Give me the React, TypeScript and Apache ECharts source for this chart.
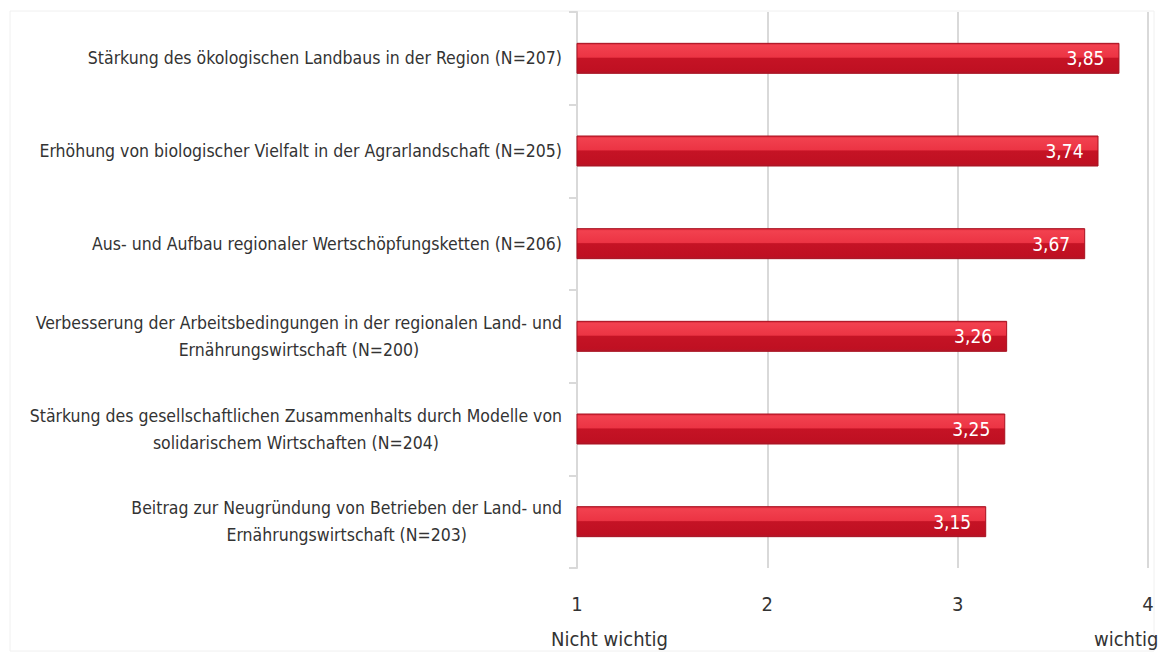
import React, { useEffect, useRef } from "react";
import * as echarts from "echarts";

const categories = [
  "Stärkung des ökologischen Landbaus in der Region (N=207)",
  "Erhöhung von biologischer Vielfalt in der Agrarlandschaft (N=205)",
  "Aus- und Aufbau regionaler Wertschöpfungsketten (N=206)",
  "Verbesserung der Arbeitsbedingungen in der regionalen Land- und\nErnährungswirtschaft (N=200)",
  "Stärkung des gesellschaftlichen Zusammenhalts durch Modelle von\nsolidarischem Wirtschaften (N=204)",
  "Beitrag zur Neugründung von Betrieben der Land- und\nErnährungswirtschaft (N=203)",
];
const values = [3.85, 3.74, 3.67, 3.26, 3.25, 3.15];
const axisMin = 1;
const axisMax = 4;
const lowLabel = "Nicht wichtig";
const highLabel = "wichtig";

const FONT = "'Liberation Sans Narrow', 'DejaVu Sans Condensed', 'Roboto', sans-serif";

export default function App() {
  const ref = useRef<HTMLDivElement>(null);
  useEffect(() => {
    if (!ref.current) return;
    const chart = echarts.init(ref.current, undefined, { renderer: "svg" });
    chart.setOption({
      animation: false,
      backgroundColor: "#ffffff",
      textStyle: { fontFamily: FONT },
      grid: { left: 577, right: 11, top: 12, bottom: 85, containLabel: false },
      xAxis: {
        type: "value",
        min: axisMin,
        max: axisMax,
        interval: 1,
        axisLine: { show: false },
        axisTick: { show: false },
        splitLine: { show: true, lineStyle: { color: "#d9d9d9", width: 2 } },
        axisLabel: {
          color: "#333333",
          fontSize: 20,
          fontFamily: FONT,
          margin: 26,
        },
      },
      yAxis: {
        type: "category",
        inverse: true,
        data: categories,
        axisLine: { show: true, lineStyle: { color: "#d9d9d9", width: 2 } },
        axisTick: { show: true, length: 8, lineStyle: { color: "#d9d9d9", width: 2 } },
        axisLabel: {
          margin: 15,
          formatter: (v: string) =>
            v
              .split("\n")
              .map((l) => `{c|${l}}`)
              .join("\n"),
          rich: {
            c: {
              align: "center",
              fontSize: 17.5,
              lineHeight: 27,
              color: "#333333",
              fontFamily: FONT,
            },
          },
        },
      },
      series: [
        {
          type: "bar",
          data: values,
          barWidth: 31,
          itemStyle: {
            color: new echarts.graphic.LinearGradient(0, 0, 0, 1, [
              { offset: 0, color: "#d42234" },
              { offset: 0.07, color: "#f2414f" },
              { offset: 0.46, color: "#ec3444" },
              { offset: 0.5, color: "#c51325" },
              { offset: 0.92, color: "#bf1022" },
              { offset: 1, color: "#b0182a" },
            ]),
            borderColor: "#a8101f",
            borderWidth: 1,
          },
          label: {
            show: true,
            position: "insideRight",
            distance: 15,
            color: "#ffffff",
            fontSize: 19,
            fontFamily: FONT,
            formatter: (p: any) => p.value.toFixed(2).replace(".", ","),
          },
        },
      ],
      graphic: [
        {
          type: "rect",
          shape: { x: 10, y: 11, width: 1144, height: 640 },
          style: { fill: "none", stroke: "#f0f0f0", lineWidth: 1 },
          silent: true,
          z: -1,
        },
        {
          type: "text",
          left: 551,
          top: 629,
          style: { text: lowLabel, fontSize: 20, fill: "#333333", fontFamily: FONT },
        },
        {
          type: "text",
          left: 1094,
          top: 629,
          style: { text: highLabel, fontSize: 20, fill: "#333333", fontFamily: FONT },
        },
      ],
    });
    return () => chart.dispose();
  }, []);
  return <div ref={ref} style={{ width: 1159, height: 653, position: "fixed", left: 0, top: 0 }} />;
}
